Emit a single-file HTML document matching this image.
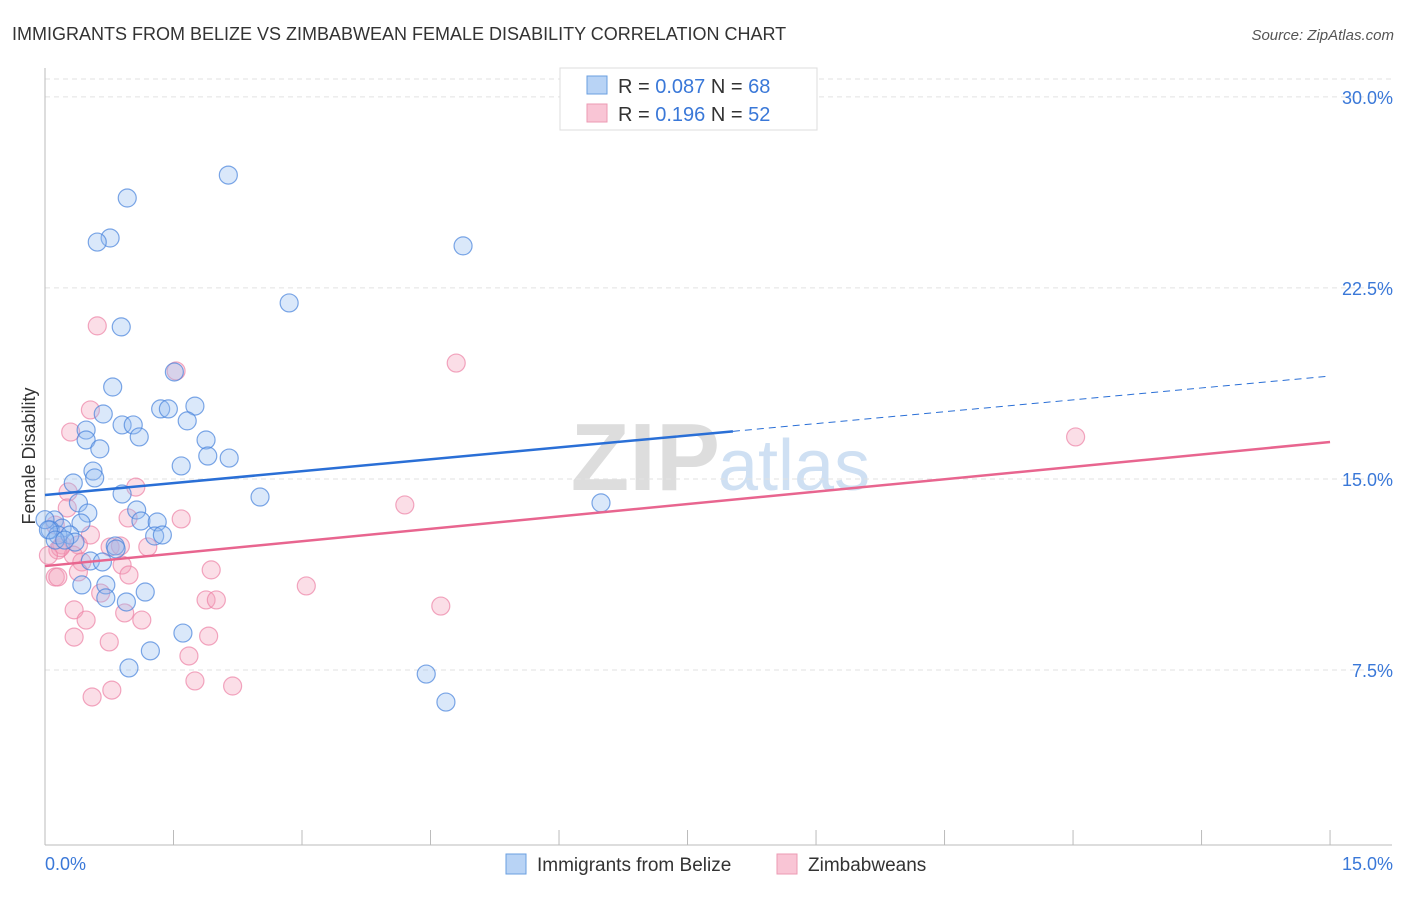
<!DOCTYPE html>
<html><head><meta charset="utf-8"><style>
body{margin:0;background:#fff;font-family:"Liberation Sans",sans-serif;}
svg text{font-family:"Liberation Sans",sans-serif;}
</style></head><body>
<svg width="1406" height="892" id="svg">
<text x="12" y="40" font-size="18" fill="#333">IMMIGRANTS FROM BELIZE VS ZIMBABWEAN FEMALE DISABILITY CORRELATION CHART</text>
<text x="1394" y="40" font-size="15" fill="#555" font-style="italic" text-anchor="end">Source: ZipAtlas.com</text>
<text x="35" y="456" font-size="18" fill="#333" transform="rotate(-90 35 456)" text-anchor="middle">Female Disability</text>
<text x="720" y="490" font-size="96" fill="#ddd" text-anchor="end" font-family="Liberation Serif" font-weight="bold">ZIP</text>
<text x="718" y="490" font-size="72" fill="#cfe0f3">atlas</text>
<g id="grid"></g><g id="axes"></g><g id="pts"></g><g id="lines"></g>
<g>
<rect x="560" y="68" width="257" height="62" fill="#fff" stroke="#ddd"/>
<rect x="587" y="76" width="20" height="18" fill="#b8d3f5" stroke="#6a9fe0"/>
<rect x="587" y="104" width="20" height="18" fill="#f9c5d5" stroke="#ec9ab3"/>
<text x="618" y="93" font-size="20" fill="#333">R = <tspan fill="#3a78d8">0.087</tspan>   N = <tspan fill="#3a78d8">68</tspan></text>
<text x="618" y="121" font-size="20" fill="#333">R =  <tspan fill="#3a78d8">0.196</tspan>   N = <tspan fill="#3a78d8">52</tspan></text>
</g>
<g>
<rect x="506" y="854" width="20" height="20" fill="#b8d3f5" stroke="#6a9fe0"/>
<text x="537" y="871" font-size="19" fill="#333">Immigrants from Belize</text>
<rect x="777" y="854" width="20" height="20" fill="#f9c5d5" stroke="#ec9ab3"/>
<text x="808" y="871" font-size="19" fill="#333">Zimbabweans</text>
</g>
</svg>
<script>
const xTicksPct=[0,15];
const yTicks=[7.5,15,22.5,30];
const blueX=[2.14,0.96,0.76,0.61,4.88,2.85,0.89,1.51,0.79,1.35,1.44,1.75,0.68,1.66,0.90,1.03,0.48,1.10,1.88,0.48,0.64,2.15,1.90,1.59,0.56,0.58,0.33,2.51,6.49,0.90,0.39,0.50,1.07,0.42,1.12,1.31,0.11,0.20,0.06,0.15,0.29,0.35,1.28,1.37,0.82,0.83,0.53,0.67,0.43,0.71,1.17,0.71,0.95,1.61,1.23,0.98,4.45,4.68,0.00,0.04,0.12,0.23];
const blueY=[26.93,26.03,24.46,24.30,24.15,21.91,20.97,19.20,18.61,17.75,17.75,17.86,17.55,17.28,17.12,17.12,16.92,16.65,16.53,16.53,16.18,15.82,15.90,15.51,15.31,15.04,14.84,14.29,14.06,14.41,14.06,13.66,13.78,13.27,13.35,13.31,13.39,13.07,13.00,12.80,12.80,12.52,12.76,12.80,12.37,12.25,11.78,11.74,10.84,10.84,10.56,10.33,10.17,8.95,8.25,7.58,7.34,6.24,13.40,13.00,12.60,12.60];
const pinkX=[0.61,4.80,1.53,0.53,12.03,0.30,1.06,0.27,4.20,0.26,0.97,1.59,0.12,0.53,0.20,0.39,0.76,0.88,1.20,0.15,0.33,0.43,0.90,1.94,0.39,0.98,0.12,0.15,3.05,0.65,1.88,2.00,4.62,0.34,0.93,0.48,1.13,0.34,1.91,0.75,1.68,1.75,2.19,0.78,0.55,0.18,0.04];
const pinkY=[21.01,19.55,19.24,17.71,16.65,16.84,14.68,14.49,13.98,13.86,13.47,13.43,13.19,12.80,12.41,12.41,12.33,12.37,12.33,12.21,12.01,11.74,11.62,11.43,11.35,11.23,11.15,11.15,10.80,10.52,10.25,10.25,10.01,9.86,9.74,9.46,9.46,8.79,8.83,8.60,8.05,7.07,6.87,6.71,6.44,12.30,12.00];
const blueLine=[14.37,19.04];
const pinkLine=[11.58,16.45];
const blueSolidEnd=8.03;
const NS="http://www.w3.org/2000/svg";
const X=v=>45+v*85.67, Y=v=>861-v*25.47;
function mk(t,a,p){const e=document.createElementNS(NS,t);for(const k in a)e.setAttribute(k,a[k]);document.getElementById(p).appendChild(e);return e;}
mk('line',{x1:45,y1:68,x2:45,y2:845,stroke:'#bbb'},'axes');
mk('line',{x1:45,y1:845,x2:1392,y2:845,stroke:'#bbb'},'axes');
for(let i=0;i<=10;i++){const t=mk('line',{x1:X(i*1.5),y1:830,x2:X(i*1.5),y2:845,stroke:'#bbb'},'axes');

}
mk('line',{x1:45,y1:79,x2:1392,y2:79,stroke:'#e2e2e2','stroke-dasharray':'5,4'},'grid');
yTicks.forEach(v=>{const g=mk('line',{x1:45,y1:Y(v),x2:1392,y2:Y(v),stroke:'#e2e2e2','stroke-dasharray':'5,4'},'grid');


const t=mk('text',{x:1393,y:Y(v)+7,'font-size':18,fill:'#3a78d8','text-anchor':'end'},'axes');t.textContent=v.toFixed(1)+'%';

});
xTicksPct.forEach((v,i)=>{const t=mk('text',{x:i?1393:45,y:870,'font-size':18,fill:'#3a78d8','text-anchor':i?'end':'start'},'axes');t.textContent=v.toFixed(1)+'%';

});
pinkX.forEach((v,i)=>{const c=mk('circle',{cx:X(v),cy:Y(pinkY[i]),r:9,fill:'rgba(244,160,185,0.35)',stroke:'rgba(236,130,165,0.7)','stroke-width':1.2},'pts');

});
blueX.forEach((v,i)=>{const c=mk('circle',{cx:X(v),cy:Y(blueY[i]),r:9,fill:'rgba(150,190,240,0.35)',stroke:'rgba(70,130,220,0.7)','stroke-width':1.2},'pts');

});
const bAt=x=>blueLine[0]+(blueLine[1]-blueLine[0])*x/15;
let l=mk('line',{x1:X(0),y1:Y(bAt(0)),x2:X(blueSolidEnd),y2:Y(bAt(blueSolidEnd)),stroke:'#2a6fd6','stroke-width':2.5},'lines');


l=mk('line',{x1:X(blueSolidEnd),y1:Y(bAt(blueSolidEnd)),x2:X(15),y2:Y(bAt(15)),stroke:'#2a6fd6','stroke-width':1,'stroke-dasharray':'7,5'},'lines');


l=mk('line',{x1:X(0),y1:Y(pinkLine[0]),x2:X(15),y2:Y(pinkLine[1]),stroke:'#e8658f','stroke-width':2.5},'lines');


</script>
</body></html>
